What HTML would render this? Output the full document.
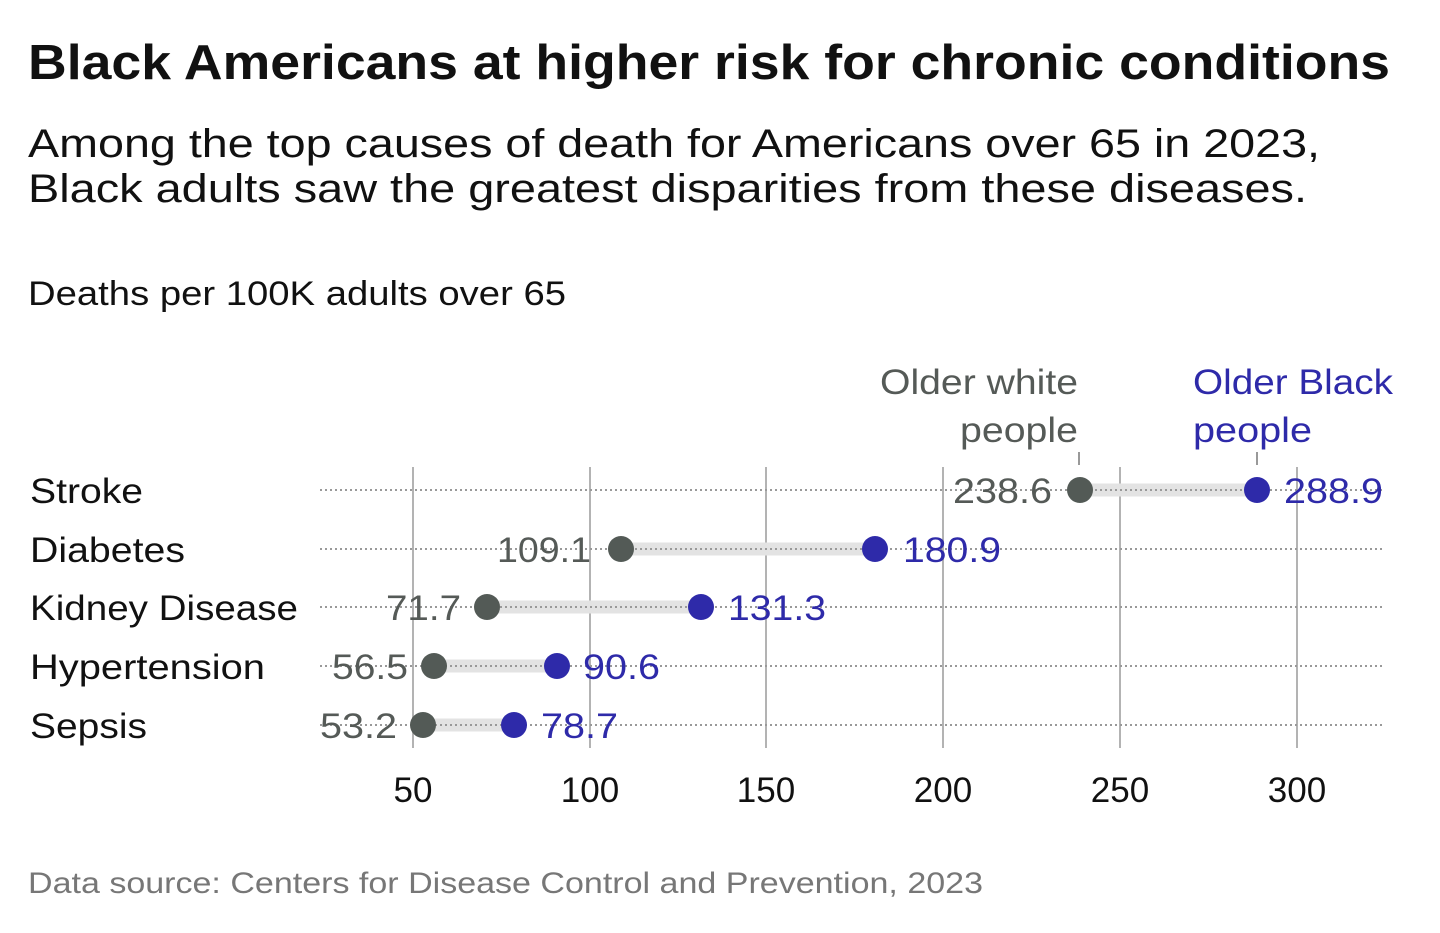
<!DOCTYPE html>
<html><head><meta charset="utf-8"><style>
body{margin:0;background:#fff;width:1440px;height:928px;overflow:hidden;font-family:"Liberation Sans",sans-serif}
</style></head><body>
<svg width="1440" height="928" xmlns="http://www.w3.org/2000/svg" font-family="Liberation Sans, sans-serif">
<text x="28" y="79" font-size="49" font-weight="bold" fill="#111" textLength="1362" lengthAdjust="spacingAndGlyphs">Black Americans at higher risk for chronic conditions</text>
<text x="28" y="157" font-size="40" fill="#111" textLength="1292" lengthAdjust="spacingAndGlyphs">Among the top causes of death for Americans over 65 in 2023,</text>
<text x="28" y="202" font-size="40" fill="#111" textLength="1279" lengthAdjust="spacingAndGlyphs">Black adults saw the greatest disparities from these diseases.</text>
<text x="28" y="305" font-size="34" fill="#111" textLength="538" lengthAdjust="spacingAndGlyphs">Deaths per 100K adults over 65</text>
<text x="880" y="394" font-size="35" fill="#555a57" textLength="198" lengthAdjust="spacingAndGlyphs">Older white</text>
<text x="960" y="442" font-size="35" fill="#555a57" textLength="118" lengthAdjust="spacingAndGlyphs">people</text>
<text x="1193" y="394" font-size="35" fill="#2e2aa9" textLength="200" lengthAdjust="spacingAndGlyphs">Older Black</text>
<text x="1193" y="442" font-size="35" fill="#2e2aa9" textLength="119" lengthAdjust="spacingAndGlyphs">people</text>
<line x1="1079" y1="452" x2="1079" y2="465" stroke="#999" stroke-width="2"/>
<line x1="1257" y1="452" x2="1257" y2="465" stroke="#999" stroke-width="2"/>
<g stroke="#b3b3b3" stroke-width="2">
<line x1="413" y1="467" x2="413" y2="748"/><line x1="590" y1="467" x2="590" y2="748"/>
<line x1="766" y1="467" x2="766" y2="748"/><line x1="943" y1="467" x2="943" y2="748"/>
<line x1="1120" y1="467" x2="1120" y2="748"/><line x1="1297" y1="467" x2="1297" y2="748"/>
</g>
<g font-size="35" fill="#111" text-anchor="middle">
<text x="413" y="802">50</text><text x="590" y="802">100</text><text x="766" y="802">150</text>
<text x="943" y="802">200</text><text x="1120" y="802">250</text><text x="1297" y="802">300</text>
</g>
<g font-size="35" fill="#111" lengthAdjust="spacingAndGlyphs">
<text x="30" y="503" textLength="113" lengthAdjust="spacingAndGlyphs">Stroke</text>
<text x="30" y="562" textLength="155" lengthAdjust="spacingAndGlyphs">Diabetes</text>
<text x="30" y="620" textLength="268" lengthAdjust="spacingAndGlyphs">Kidney Disease</text>
<text x="30" y="679" textLength="235" lengthAdjust="spacingAndGlyphs">Hypertension</text>
<text x="30" y="738" textLength="117" lengthAdjust="spacingAndGlyphs">Sepsis</text>
</g>
<g stroke="#e3e3e3" stroke-width="13">
<line x1="1080" y1="490" x2="1257" y2="490"/><line x1="621" y1="549" x2="875" y2="549"/>
<line x1="487" y1="607" x2="701" y2="607"/><line x1="434" y1="666" x2="557" y2="666"/>
<line x1="423" y1="725" x2="514" y2="725"/>
</g>
<g stroke="#999" stroke-width="2" stroke-dasharray="2,3">
<line x1="320" y1="490" x2="1385" y2="490"/><line x1="320" y1="549" x2="1385" y2="549"/>
<line x1="320" y1="607" x2="1385" y2="607"/><line x1="320" y1="666" x2="1385" y2="666"/>
<line x1="320" y1="725" x2="1385" y2="725"/>
</g>
<g fill="#535a56">
<circle cx="1080" cy="490" r="13"/><circle cx="621" cy="549" r="13"/><circle cx="487" cy="607" r="13"/>
<circle cx="434" cy="666" r="13"/><circle cx="423" cy="725" r="13"/>
</g>
<g fill="#2e2aa9">
<circle cx="1257" cy="490" r="13"/><circle cx="875" cy="549" r="13"/><circle cx="701" cy="607" r="13"/>
<circle cx="557" cy="666" r="13"/><circle cx="514" cy="725" r="13"/>
</g>
<g font-size="35" fill="#555a57">
<text x="953" y="503" textLength="99" lengthAdjust="spacingAndGlyphs">238.6</text>
<text x="497" y="562" textLength="94" lengthAdjust="spacingAndGlyphs">109.1</text>
<text x="386" y="620" textLength="75" lengthAdjust="spacingAndGlyphs">71.7</text>
<text x="332" y="679" textLength="76" lengthAdjust="spacingAndGlyphs">56.5</text>
<text x="320" y="738" textLength="77" lengthAdjust="spacingAndGlyphs">53.2</text>
</g>
<g font-size="35" fill="#2e2aa9">
<text x="1284" y="503" textLength="99" lengthAdjust="spacingAndGlyphs">288.9</text>
<text x="903" y="562" textLength="98" lengthAdjust="spacingAndGlyphs">180.9</text>
<text x="728" y="620" textLength="98" lengthAdjust="spacingAndGlyphs">131.3</text>
<text x="583" y="679" textLength="77" lengthAdjust="spacingAndGlyphs">90.6</text>
<text x="541" y="738" textLength="77" lengthAdjust="spacingAndGlyphs">78.7</text>
</g>
<text x="28" y="893" font-size="30" fill="#777" textLength="955" lengthAdjust="spacingAndGlyphs">Data source: Centers for Disease Control and Prevention, 2023</text>
</svg>
</body></html>
